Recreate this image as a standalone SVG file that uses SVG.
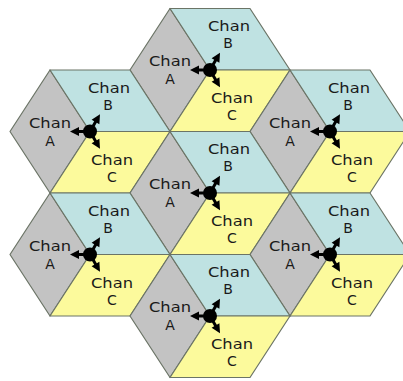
<svg xmlns="http://www.w3.org/2000/svg" xmlns:xlink="http://www.w3.org/1999/xlink" width="403" height="381" viewBox="0 0 403 381">
<style>
.a{fill:#c3c3c3;stroke:#6b7466;stroke-width:1.2;stroke-linejoin:round}
.b{fill:#bfe2e2;stroke:#6b7466;stroke-width:1.2;stroke-linejoin:round}
.c{fill:#fcfa9c;stroke:#6b7466;stroke-width:1.2;stroke-linejoin:round}
text{font-family:"DejaVu Sans","Liberation Sans",sans-serif;font-size:14px;fill:#1a1a1a;text-anchor:middle}
</style>
<defs>
<g id="arr"><line x1="0" y1="0" x2="13" y2="0" stroke="#000" stroke-width="3"/><polygon points="20,0 11,-4.5 11,4.5" fill="#000"/></g>
<g id="ant">
<use xlink:href="#arr" transform="rotate(180)"/>
<use xlink:href="#arr" transform="rotate(-60)"/>
<use xlink:href="#arr" transform="rotate(60)"/>
<circle r="7" fill="#000"/>
</g>
<g id="cell">
<polygon class="a" points="0,0 -40,-61.5 -80,0 -40,61.5"/>
<polygon class="b" points="0,0 -40,-61.5 40,-61.5 80,0"/>
<polygon class="c" points="0,0 80,0 40,61.5 -40,61.5"/>
</g>
</defs>
<rect width="403" height="381" fill="#fff"/>
<g id="cell-top" transform="translate(210,70)">
<use xlink:href="#cell"/>
<text x="-40" y="-4" textLength="42" lengthAdjust="spacingAndGlyphs">Chan</text><text x="-40" y="14">A</text>
<text x="19" y="-39" textLength="42" lengthAdjust="spacingAndGlyphs">Chan</text><text x="18" y="-22">B</text>
<text x="22" y="33" textLength="42" lengthAdjust="spacingAndGlyphs">Chan</text><text x="22" y="50">C</text>
<use xlink:href="#ant"/>
</g>
<g id="cell-upper-left" transform="translate(90,131.5)">
<use xlink:href="#cell"/>
<text x="-40" y="-4" textLength="42" lengthAdjust="spacingAndGlyphs">Chan</text><text x="-40" y="14">A</text>
<text x="19" y="-39" textLength="42" lengthAdjust="spacingAndGlyphs">Chan</text><text x="18" y="-22">B</text>
<text x="22" y="33" textLength="42" lengthAdjust="spacingAndGlyphs">Chan</text><text x="22" y="50">C</text>
<use xlink:href="#ant"/>
</g>
<g id="cell-upper-right" transform="translate(330,131.5)">
<use xlink:href="#cell"/>
<text x="-40" y="-4" textLength="42" lengthAdjust="spacingAndGlyphs">Chan</text><text x="-40" y="14">A</text>
<text x="19" y="-39" textLength="42" lengthAdjust="spacingAndGlyphs">Chan</text><text x="18" y="-22">B</text>
<text x="22" y="33" textLength="42" lengthAdjust="spacingAndGlyphs">Chan</text><text x="22" y="50">C</text>
<use xlink:href="#ant"/>
</g>
<g id="cell-center" transform="translate(210,193)">
<use xlink:href="#cell"/>
<text x="-40" y="-4" textLength="42" lengthAdjust="spacingAndGlyphs">Chan</text><text x="-40" y="14">A</text>
<text x="19" y="-39" textLength="42" lengthAdjust="spacingAndGlyphs">Chan</text><text x="18" y="-22">B</text>
<text x="22" y="33" textLength="42" lengthAdjust="spacingAndGlyphs">Chan</text><text x="22" y="50">C</text>
<use xlink:href="#ant"/>
</g>
<g id="cell-lower-left" transform="translate(90,254.5)">
<use xlink:href="#cell"/>
<text x="-40" y="-4" textLength="42" lengthAdjust="spacingAndGlyphs">Chan</text><text x="-40" y="14">A</text>
<text x="19" y="-39" textLength="42" lengthAdjust="spacingAndGlyphs">Chan</text><text x="18" y="-22">B</text>
<text x="22" y="33" textLength="42" lengthAdjust="spacingAndGlyphs">Chan</text><text x="22" y="50">C</text>
<use xlink:href="#ant"/>
</g>
<g id="cell-lower-right" transform="translate(330,254.5)">
<use xlink:href="#cell"/>
<text x="-40" y="-4" textLength="42" lengthAdjust="spacingAndGlyphs">Chan</text><text x="-40" y="14">A</text>
<text x="19" y="-39" textLength="42" lengthAdjust="spacingAndGlyphs">Chan</text><text x="18" y="-22">B</text>
<text x="22" y="33" textLength="42" lengthAdjust="spacingAndGlyphs">Chan</text><text x="22" y="50">C</text>
<use xlink:href="#ant"/>
</g>
<g id="cell-bottom" transform="translate(210,316)">
<use xlink:href="#cell"/>
<text x="-40" y="-4" textLength="42" lengthAdjust="spacingAndGlyphs">Chan</text><text x="-40" y="14">A</text>
<text x="19" y="-39" textLength="42" lengthAdjust="spacingAndGlyphs">Chan</text><text x="18" y="-22">B</text>
<text x="22" y="33" textLength="42" lengthAdjust="spacingAndGlyphs">Chan</text><text x="22" y="50">C</text>
<use xlink:href="#ant"/>
</g>
<g id="connectors"></g>
</svg>
